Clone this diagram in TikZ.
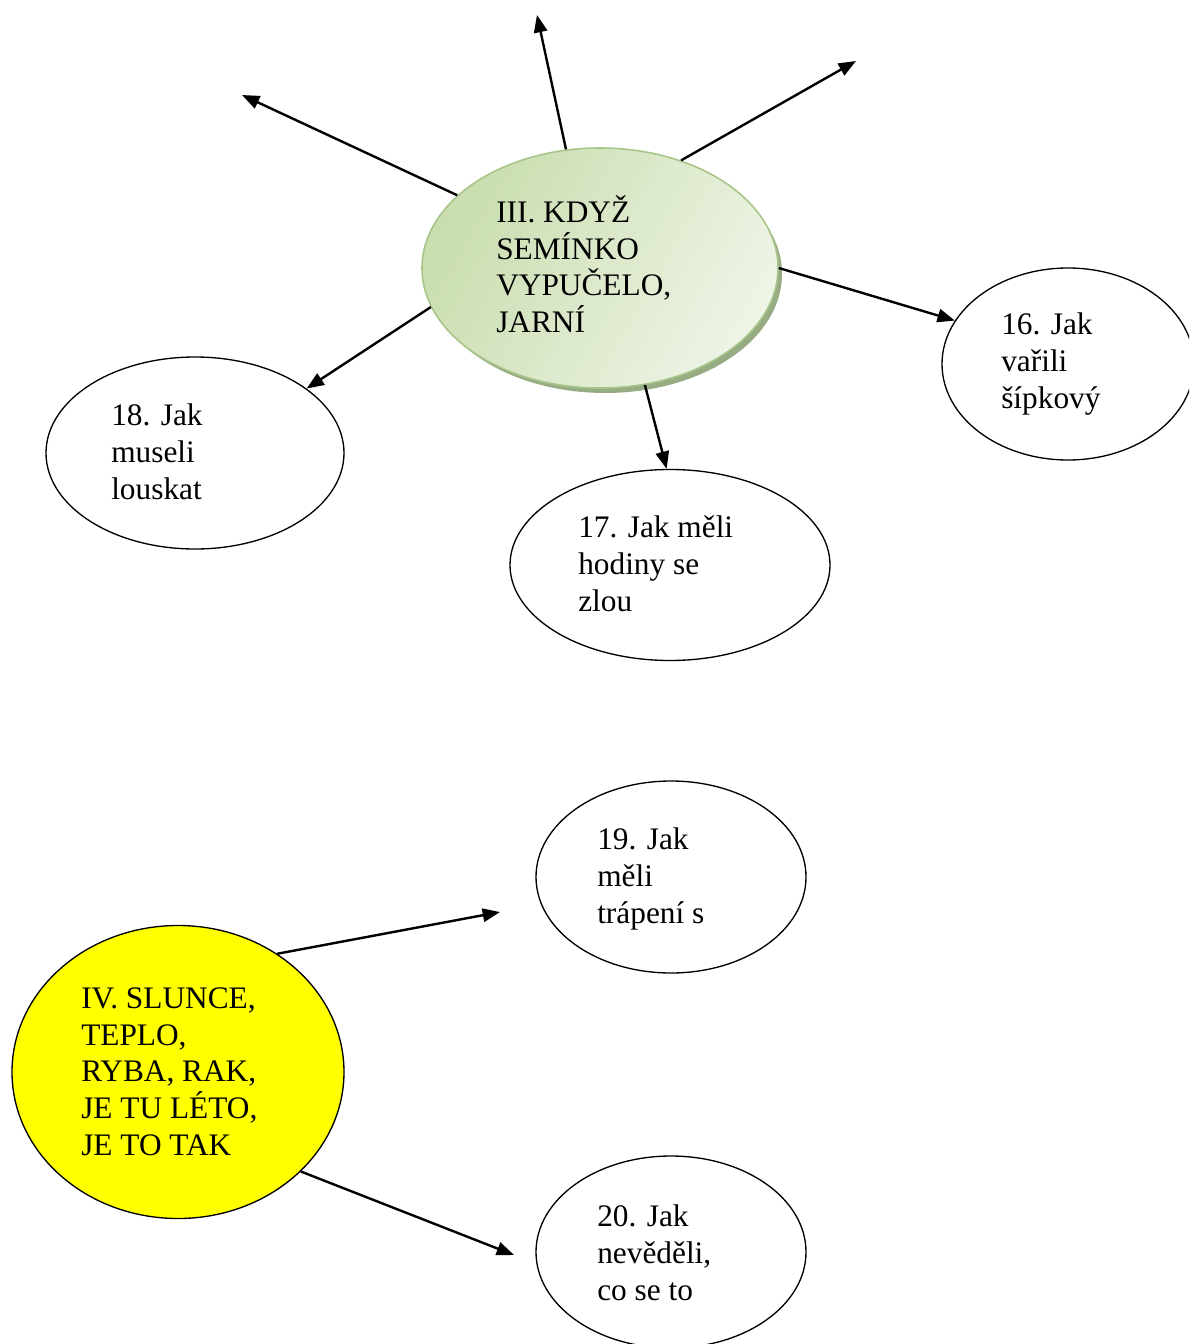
\documentclass[tikz,border=0pt]{standalone}
\usepackage{fontspec}
\setmainfont{Liberation Serif}
\usetikzlibrary{arrows.meta,shapes.geometric,shadows}
\definecolor{gborder}{HTML}{A8C68A}
\definecolor{gdark}{HTML}{C9DDAE}
\definecolor{glight}{HTML}{EEF4E6}
\definecolor{gshadow}{HTML}{98AC84}
\definecolor{sunyellow}{HTML}{FFFF00}
\begin{document}
\begin{tikzpicture}[x=0.75pt,y=-0.75pt,
  bubble/.style={ellipse,draw=black,line width=1pt,inner sep=0pt,fill=white},
  label/.style={anchor=base west,inner sep=0pt,align=left,font=\fontsize{23.5}{27.4}\selectfont},
  conn/.style={line width=1.8pt,-{Triangle[length=13pt,width=10pt]}}
]
\useasboundingbox (0,0) rectangle (1189,1344);
\clip (0,0) rectangle (1189,1344);
% green central node with shadow
\fill[gshadow] (605,274) ellipse [x radius=177,y radius=119];
\node[ellipse,inner sep=0pt,minimum width=267pt,minimum height=180pt,draw=gborder,line width=1.2pt,
  left color=gdark,right color=glight,shading angle=60] (g) at (600,268) {};
\node[bubble,minimum width=189pt,minimum height=144pt] (n16) at (1068,364) {};
\node[bubble,minimum width=223.5pt,minimum height=144pt] (n18) at (195,453) {};
\node[bubble,minimum width=240pt,minimum height=143.25pt] (n17) at (670,565) {};
\node[bubble,minimum width=202.5pt,minimum height=144pt] (n19) at (671,877) {};
\node[bubble,minimum width=202.5pt,minimum height=144pt] (n20) at (671,1252) {};
\node[bubble,fill=sunyellow,minimum width=249pt,minimum height=219.75pt] (y) at (178,1072) {};
% texts (anchored at the baseline of the last line)
\node[label] (tg) at (496,332.5) {III. KDYŽ\\SEMÍNKO\\VYPUČELO,\\JARNÍ};
\node[label] (t16) at (1001,408) {16. Jak\\vařili\\šípkový};
\node[label] (t18) at (111,499) {18. Jak\\museli\\louskat};
\node[label] (t17) at (578,611) {17. Jak měli\\hodiny se\\zlou};
\node[label] (t19) at (597,923) {19. Jak\\měli\\trápení s};
\node[label] (t20) at (597,1300) {20. Jak\\nevěděli,\\co se to};
\node[label] (ty) at (81,1155) {IV. SLUNCE,\\TEPLO,\\RYBA, RAK,\\JE TU LÉTO,\\JE TO TAK};
% free ends
\coordinate (e1) at (242,95);
\coordinate (e2) at (537,15);
\coordinate (e3) at (856,61);
\coordinate (e4) at (500,912);
\coordinate (e5) at (514,1255);
% connectors
\draw[conn] (g.153.7) -- (e1);
\draw[conn] (g.106.6) -- (e2);
\draw[conn] (g.53) -- (e3);
\draw[conn] (g.0) -- (n16.159.2);
\draw[conn] (g.193.9) -- (n18.30.7);
\draw[conn] (g.291.8) -- (n17.92.4);
\draw[conn] (y.50) -- (e4);
\draw[conn] (y.-39.8) -- (e5);
\end{tikzpicture}
\end{document}
